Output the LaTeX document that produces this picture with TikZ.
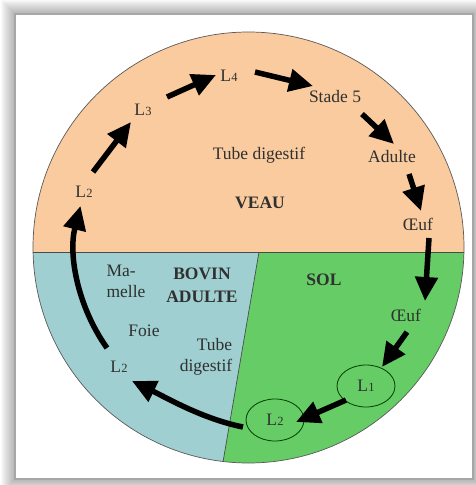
\documentclass[tikz,border=0pt]{standalone}
\usepackage{fontspec}
\setmainfont{Liberation Serif}
\usetikzlibrary{arrows.meta,shapes.geometric}
\definecolor{peach}{HTML}{FACB9E}
\definecolor{bluec}{HTML}{9FCFD1}
\definecolor{greenc}{HTML}{66CC66}
\definecolor{txt}{HTML}{303030}
\definecolor{edgec}{HTML}{4A4A4A}
\newcommand{\Lnum}[1]{L\kern0.2pt{\fontsize{12.5}{12.5}\selectfont #1}}
\begin{document}
\begin{tikzpicture}[x=1pt,y=-1pt,
  lab/.style={font=\fontsize{17.5}{21}\selectfont, text=txt, inner sep=1pt},
  boldlab/.style={font=\fontsize{17.5}{23}\selectfont\bfseries, text=txt, inner sep=1pt, align=center},
  arr/.style={line width=5.5pt, -{Triangle[length=24pt,width=22pt]}},
  stagebox/.style={ellipse, draw=black!75!green, line width=0.8pt, minimum width=58pt, minimum height=42pt, inner sep=0pt, font=\fontsize{17.5}{21}\selectfont, text=txt}]
\useasboundingbox (0,0) rectangle (475,485);
% card with shadow
\foreach \i in {1,...,14} \fill[black,opacity=0.022] (15-\i,14-\i) rectangle (473+\i,479+\i);
\fill[white] (15,14) rectangle (473,479);
\draw[gray!70, line width=1.3pt] (15,14) rectangle (473,479);
% circle regions
\begin{scope}
  \clip (248.5,247.5) circle (215.5);
  \fill[peach] (0,0) rectangle (475,252);
  \fill[bluec] (0,252) -- (259,252) -- (216.5,500) -- (0,500) -- cycle;
  \fill[greenc] (259,252) -- (475,252) -- (475,500) -- (216.5,500) -- cycle;
  \draw[edgec, line width=0.8pt] (0,252) -- (475,252);
  \draw[edgec, line width=0.7pt] (259,252) -- (216.5,500);
\end{scope}
\draw[gray!70!black, line width=0.7pt] (248.5,247.5) circle (215.5);
% labels
\node[lab] (L2a) at (84,192) {\Lnum{2}};
\node[lab] (L3) at (143,110) {\Lnum{3}};
\node[lab] (L4) at (229,76) {\Lnum{4}};
\node[lab] (S5) at (335,97) {Stade 5};
\node[lab] (Ad) at (392,157) {Adulte};
\node[lab] (Oe1) at (418,224) {Œuf};
\node[lab] (TD1) at (259,155) {Tube digestif};
\node[boldlab] (VEAU) at (260,203) {VEAU};
\node[boldlab] (SOL) at (324,280) {SOL};
\node[boldlab] (BOV) at (202,285) {BOVIN\\ADULTE};
\node[lab, align=left] (MAM) at (126,281) {Ma-\\melle};
\node[lab] (FOIE) at (144,331) {Foie};
\node[lab, align=right] (TD2) at (206,357) {Tube\\digestif};
\node[lab] (L2b) at (119,367) {\Lnum{2}};
\node[lab] (Oe2) at (406,315) {Œuf};
\node[stagebox] (L1) at (366,386) {\Lnum{1}};
\node[stagebox] (L2e) at (275,420) {\Lnum{2}};
% arrows
\draw[arr] ([shift={(-12,-19)}]L2b.center) arc[start angle=144.6,end angle=194.3,radius=172];
\draw[arr] ([shift={(9,-20)}]L2a.center) -- ([shift={(-12,12)}]L3.center);
\draw[arr] ([shift={(24,-13)}]L3.center) -- ([shift={(-13,-1)}]L4.center);
\draw[arr] ([shift={(26,-4)}]L4.center) -- ([shift={(-22,-11)}]S5.center);
\draw[arr] ([shift={(27,17)}]S5.center) -- ([shift={(2,-13)}]Ad.center);
\draw[arr] ([shift={(17,17)}]Ad.center) -- ([shift={(3,-13)}]Oe1.center);
\draw[arr] ([shift={(11,14)}]Oe1.center) -- ([shift={(19,-14)}]Oe2.center);
\draw[arr] ([shift={(1,17)}]Oe2.center) -- ([shift={(16,-19)}]L1.center);
\draw[arr] ([shift={(-20,14)}]L1.center) -- ([shift={(21,2)}]L2e.center);
\draw[arr] ([shift={(-32,7)}]L2e.center) .. controls +(-40,-8) and +(35,17) .. ([shift={(13,14)}]L2b.center);
\end{tikzpicture}
\end{document}
